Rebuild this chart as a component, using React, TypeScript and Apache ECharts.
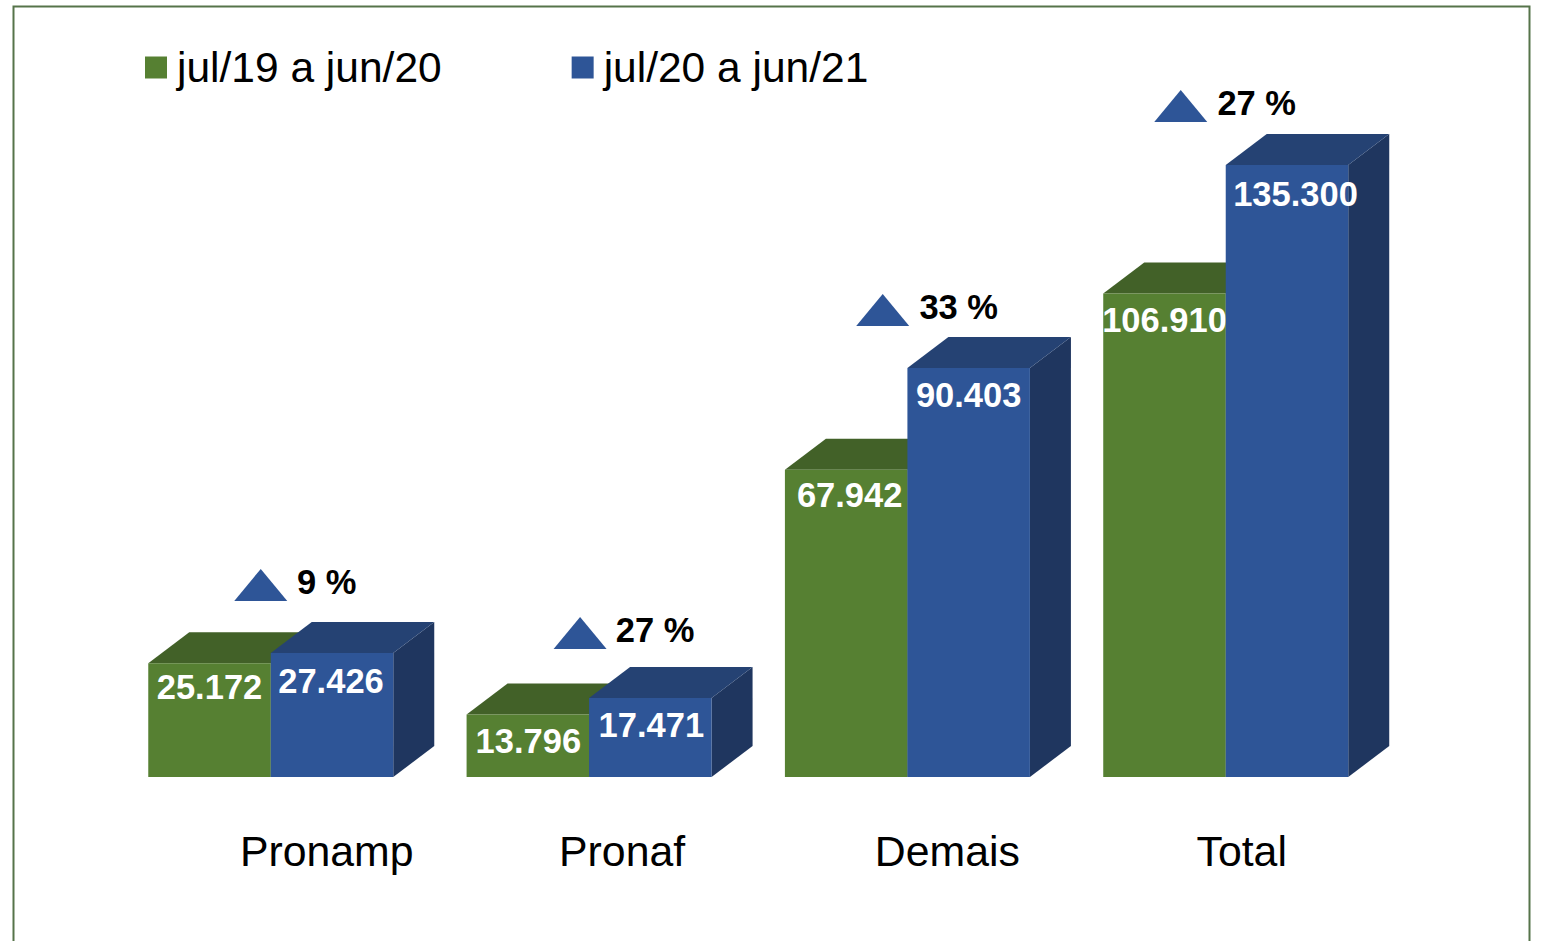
import React, { useEffect, useRef } from "react";
import * as echarts from "echarts";

const categories = ["Pronamp", "Pronaf", "Demais", "Total"];
const seriesNames = ["jul/19 a jun/20", "jul/20 a jun/21"];
const values2020 = [25172, 13796, 67942, 106910];
const values2021 = [27426, 17471, 90403, 135300];
const variation = [9, 27, 33, 27];

const FONT = "'Liberation Sans', Arial, sans-serif";
const BAR_W = 122.5;
const DX = 41;
const DY = 31;
const GREEN = { front: "#568032", top: "#426128", side: "#3A5523" };
const BLUE = { front: "#2E5597", top: "#254273", side: "#1F365F" };

// label nudges in pixels, per category
const label2020 = [[0, 24], [0.5, 26], [3.5, 25], [0, 27]];
const label2021 = [[-1, 28], [1, 27], [0, 27], [8.5, 29]];
const triDx = [-10, -9, -24.7, -45];
const triGap = [52, 49, 42, 43];
const pctDx = [56, 66, 51.3, 31];
const nameDx = [56, 33, 40, 16];
const NAME_Y = 851;

const fmt = (v: number) => {
  const s = String(v);
  return s.slice(0, -3) + "." + s.slice(-3);
};

const bar3d = (side: number, colors: typeof GREEN, nudges: number[][]) => (params: any, api: any) => {
  const i = api.value(0);
  const v = api.value(1);
  const [cx, top] = api.coord([i, v]);
  const [, base] = api.coord([i, 0]);
  const x0 = side < 0 ? cx - BAR_W : cx;
  const x1 = x0 + BAR_W;
  return {
    type: "group",
    children: [
      { type: "polygon", shape: { points: [[x1, top], [x1 + DX, top - DY], [x1 + DX, base - DY], [x1, base]] }, style: { fill: colors.side } },
      { type: "polygon", shape: { points: [[x0, top], [x0 + DX, top - DY], [x1 + DX, top - DY], [x1, top]] }, style: { fill: colors.top } },
      { type: "rect", shape: { x: x0, y: top, width: BAR_W, height: base - top }, style: { fill: colors.front } },
      {
        type: "text",
        z2: 10,
        style: {
          x: (x0 + x1) / 2 + nudges[i][0],
          y: top + nudges[i][1],
          text: fmt(v),
          fill: "#FFFFFF",
          fontFamily: FONT,
          fontWeight: "bold",
          fontSize: 34.5,
          align: "center",
          verticalAlign: "middle",
        },
      },
    ],
  };
};

const annotations = (params: any, api: any) => {
  const i = api.value(0);
  const [cx, top] = api.coord([i, api.value(1)]);
  const tx = cx + triDx[i];
  const ty = top - triGap[i];
  return {
    type: "group",
    children: [
      { type: "polygon", shape: { points: [[tx - 26.5, ty], [tx, ty - 32], [tx + 26.5, ty]] }, style: { fill: BLUE.front } },
      {
        type: "text",
        style: {
          x: cx + pctDx[i],
          y: ty - 19,
          text: `${variation[i]} %`,
          fill: "#000000",
          fontFamily: FONT,
          fontWeight: "bold",
          fontSize: 34.5,
          align: "center",
          verticalAlign: "middle",
        },
      },
      {
        type: "text",
        style: {
          x: cx + nameDx[i],
          y: NAME_Y,
          text: categories[i],
          fill: "#000000",
          fontFamily: FONT,
          fontSize: 42.8,
          align: "center",
          verticalAlign: "middle",
        },
      },
    ],
  };
};

export default function App() {
  const ref = useRef<HTMLDivElement>(null);
  useEffect(() => {
    const chart = echarts.init(ref.current!, null, { renderer: "svg" });
    chart.setOption({
      animation: false,
      backgroundColor: "#FFFFFF",
      grid: { left: 111.6, top: 98.5, width: 1273.3, height: 678.5 },
      xAxis: { type: "category", data: categories, show: false },
      yAxis: { type: "value", min: 0, max: 150000, show: false },
      legend: {
        left: 140,
        top: 41,
        data: seriesNames,
        icon: "rect",
        itemWidth: 22,
        itemHeight: 22,
        itemGap: 130,
        textStyle: { fontFamily: FONT, fontSize: 42.5, color: "#000000", padding: [0, 0, 0, 5] },
        selectedMode: false,
      },
      graphic: [
        {
          type: "rect",
          shape: { x: 13.5, y: 6.5, width: 1516, height: 960 },
          style: { fill: "none", stroke: "#56744A", lineWidth: 2 },
          silent: true,
        },
      ],
      series: [
        {
          type: "custom",
          name: seriesNames[0],
          renderItem: bar3d(-1, GREEN, label2020),
          data: values2020.map((v, i) => [i, v]),
          itemStyle: { color: GREEN.front },
          clip: false,
          z: 2,
        },
        {
          type: "custom",
          name: seriesNames[1],
          renderItem: bar3d(1, BLUE, label2021),
          data: values2021.map((v, i) => [i, v]),
          itemStyle: { color: BLUE.front },
          clip: false,
          z: 3,
        },
        {
          type: "custom",
          name: "Variação",
          renderItem: annotations,
          data: values2021.map((v, i) => [i, v]),
          clip: false,
          z: 4,
        },
      ],
    });
    return () => chart.dispose();
  }, []);
  return <div ref={ref} style={{ position: "absolute", left: 0, top: 0, width: 1542, height: 941 }} />;
}
